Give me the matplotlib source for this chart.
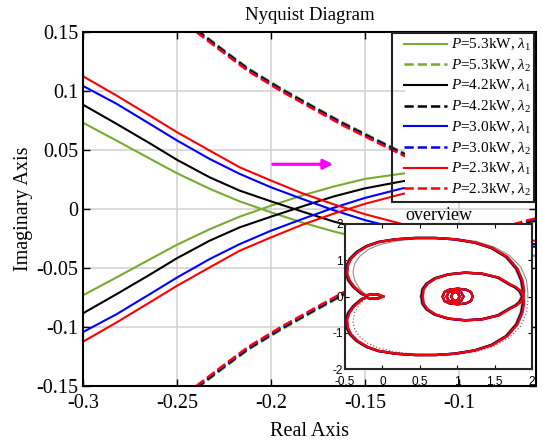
import matplotlib
matplotlib.use('Agg')
import matplotlib.pyplot as plt
from matplotlib.lines import Line2D
from matplotlib.patches import Rectangle
import numpy as np

plt.rcParams['font.family'] = 'Liberation Serif'
plt.rcParams['mathtext.fontset'] = 'custom'
plt.rcParams['mathtext.rm'] = 'Liberation Serif'
plt.rcParams['mathtext.it'] = 'Liberation Serif:italic'
plt.rcParams['axes.unicode_minus'] = False

# operating points and colours
powers = ['5.3', '4.2', '3.0', '2.3']
colors = ['#77AC30', 'k', 'b', 'r']

# lambda_1 loci, upper branch (lower branch is the conjugate)
lam1_x = [-0.30, -0.2823, -0.2646, -0.25, -0.2327, -0.2167, -0.20, -0.1833, -0.1667,
          -0.15, -0.13, -0.10, -0.059]
lam1_y = [
    [0.0731, 0.0581, 0.0428, 0.0303, 0.0172, 0.0065, -0.0028, -0.0115, -0.0190,
     -0.0255, -0.0300, -0.0350, -0.0397],   # 5.3 kW
    [0.0884, 0.0723, 0.0558, 0.0417, 0.0269, 0.0156, 0.0065, -0.0022, -0.0106,
     -0.0175, -0.0235, -0.0285, -0.0320],   # 4.2 kW
    [0.1043, 0.0893, 0.0723, 0.0581, 0.0425, 0.0298, 0.0184, 0.0085, -0.0010,
     -0.0094, -0.0175, -0.0245, -0.0298],   # 3.0 kW
    [0.1125, 0.0963, 0.0793, 0.0651, 0.0496, 0.0354, 0.0241, 0.0133, 0.0040,
     -0.0044, -0.0128, -0.0205, -0.0270],   # 2.3 kW
]

# lambda_2 locus (all four powers nearly coincide)
lam2_x = [-0.2395, -0.2236, -0.2117, -0.1941, -0.1780, -0.1622, -0.1450, -0.1282,
          -0.0963, -0.0633, -0.059]
lam2_y = [0.1508, 0.1315, 0.1175, 0.1005, 0.0862, 0.0723, 0.0585, 0.0453,
          0.0255, 0.0105, 0.009]
lam2_shift = [0.0013, 0.0005, -0.0003, -0.0010]

# overview: full locus, upper half
ov_x = [0.016, -0.05, -0.13, -0.21, -0.26, -0.282, -0.371, -0.438, -0.469, -0.460, -0.416,
        -0.327, -0.193, -0.038, 0.184, 0.451, 0.718, 0.984, 1.251, 1.473, 1.673, 1.807,
        1.873, 1.896, 1.887, 1.851, 1.784, 1.727, 1.562, 1.340, 1.118, 0.896, 0.718,
        0.607, 0.553, 0.540]
ov_y = [0.0, 0.055, 0.06, 0.03, 0.07, 0.106, 0.262, 0.446, 0.630, 0.860, 1.044,
        1.228, 1.393, 1.504, 1.577, 1.614, 1.614, 1.577, 1.485, 1.338, 1.090, 0.768,
        0.446, 0.170, 0.014, -0.152, -0.262, -0.317, -0.52, -0.63, -0.657, -0.611, -0.501,
        -0.354, -0.198, 0.0]
ov_shift = [-0.025, -0.015, -0.008, 0.0]

# small resonance loops near 1+0j (upper halves)
loop_x = [
    [0.807, 0.829, 0.896, 1.007, 1.118, 1.184, 1.207],
    [0.860, 0.887, 0.971, 1.051, 1.082],
    [0.922, 0.940, 0.976, 1.011, 1.029],
]
loop_y = [
    [0.0, 0.124, 0.189, 0.216, 0.189, 0.124, 0.0],
    [0.0, 0.124, 0.170, 0.124, 0.0],
    [0.0, 0.097, 0.124, 0.097, 0.0],
]

# thin reference locus in the overview
ref_x = [-0.2, -0.304, -0.371, -0.393, -0.371, -0.304, -0.193, -0.038, 0.184, 0.451,
         0.718, 0.984, 1.251, 1.495, 1.696, 1.851, 1.927, 1.944, 1.944]
ref_y = [0.0, 0.216, 0.446, 0.676, 0.906, 1.108, 1.292, 1.430, 1.531, 1.595,
         1.623, 1.595, 1.522, 1.366, 1.136, 0.814, 0.446, 0.124, 0.0]

xticks = [-0.3, -0.25, -0.2, -0.15, -0.1]
xticklabels = ['-0.3', '-0.25', '-0.2', '-0.15', '-0.1']
yticks = [-0.15, -0.1, -0.05, 0, 0.05, 0.1, 0.15]
yticklabels = ['-0.15', '-0.1', '-0.05', '0', '0.05', '0.1', '0.15']

fig = plt.figure(figsize=(5.43, 4.45), dpi=100)
W, H = 543.0, 445.0
ax = fig.add_axes([83 / W, 59 / H, 453 / W, 354 / H])

handles = []
labels = []
for i in range(4):
    y1 = np.array(lam1_y[i])
    ax.plot(lam1_x, y1, color=colors[i], lw=1.5)
    ax.plot(lam1_x, -y1, color=colors[i], lw=1.5)
    y2 = np.array(lam2_y) + lam2_shift[i]
    ax.plot(lam2_x, y2, '--', color=colors[i], lw=1.8)
    ax.plot(lam2_x, -y2, '--', color=colors[i], lw=1.8)
    handles.append(Line2D([], [], color=colors[i], lw=1.5))
    labels.append('$P$=' + powers[i] + r'kW, $\lambda_1$')
    handles.append(Line2D([], [], color=colors[i], lw=1.8, ls='--'))
    labels.append('$P$=' + powers[i] + r'kW, $\lambda_2$')

ax.annotate('', xy=(-0.1654, 0.0379), xytext=(-0.2005, 0.0379),
            arrowprops=dict(arrowstyle='-|>', color='#ff00ff', lw=2.3, mutation_scale=14))

ax.set_xlim(-0.3, -0.059)
ax.set_ylim(-0.15, 0.15)
ax.set_xticks(xticks)
ax.set_xticklabels(xticklabels)
ax.set_yticks(yticks)
ax.set_yticklabels(yticklabels)
ax.tick_params(direction='in', length=5, labelsize=14.5, top=True, right=True, width=1)
ax.tick_params(axis='x', pad=5.5)
ax.grid(True, color='#d4d4d4', lw=1.2)
for s in ax.spines.values():
    s.set_linewidth(1.5)
ax.set_xlabel('Real Axis', fontsize=14.5, labelpad=7)
ax.set_ylabel('Imaginary Axis', fontsize=14.5, labelpad=2)
ax.set_title('Nyquist Diagram', fontsize=13.5, pad=9)

# legend box
ax.add_patch(Rectangle((405 / W, 1 - 202 / H), 129 / W, 169 / H, transform=fig.transFigure,
                       facecolor='white', edgecolor='none', zorder=4, clip_on=False))
ax.add_patch(Rectangle((392 / W, 1 - 202 / H), 142 / W, 169 / H, transform=fig.transFigure,
                       facecolor='none', edgecolor='#222222', lw=1.5, zorder=4.5, clip_on=False))
leg = ax.legend(handles, labels, loc='upper left', bbox_to_anchor=(404 / W, 1 - 37 / H),
                bbox_transform=fig.transFigure, frameon=False, fontsize=11,
                handlelength=2.8, handletextpad=0.3, labelspacing=0.3,
                borderpad=0, borderaxespad=0)
leg.set_zorder(5)

# overview inset
axin = fig.add_axes([345 / W, 76 / H, 187 / W, 145 / H])
axin.set_facecolor('white')
ref = np.array(ref_y)
axin.plot(ref_x, ref, color='#9a8a8a', lw=0.8)
axin.plot(ref_x, -ref, ':', color='#b06060', lw=0.9)
for i in range(4):
    xs = np.array(ov_x) + ov_shift[i]
    ys = np.array(ov_y)
    axin.plot(xs, ys, color=colors[i], lw=1.7)
    axin.plot(xs, -ys, color=colors[i], lw=1.7)
    for lx, ly in zip(loop_x, loop_y):
        lyy = np.array(ly)
        axin.plot(lx, lyy, color=colors[i], lw=1.6)
        axin.plot(lx, -lyy, color=colors[i], lw=1.6)
axin.set_xlim(-0.5, 2)
axin.set_ylim(-2, 2)
axin.set_xticks([-0.5, 0, 0.5, 1, 1.5, 2])
axin.set_xticklabels(['-0.5', '0', '0.5', '1', '1.5', '2'])
axin.set_yticks([-2, -1, 0, 1, 2])
axin.set_yticklabels(['-2', '-1', '0', '1', '2'])
axin.tick_params(direction='in', length=3, labelsize=8.5, top=True, right=True, pad=1.5)
axin.tick_params(axis='x', pad=5)
for lab in axin.get_xticklabels() + axin.get_yticklabels():
    lab.set_family('Liberation Sans')
for s in axin.spines.values():
    s.set_linewidth(1.5)
    s.set_color('#262626')
axin.set_title('overview', fontsize=13, pad=3)

fig.savefig('out.png', dpi=100)
